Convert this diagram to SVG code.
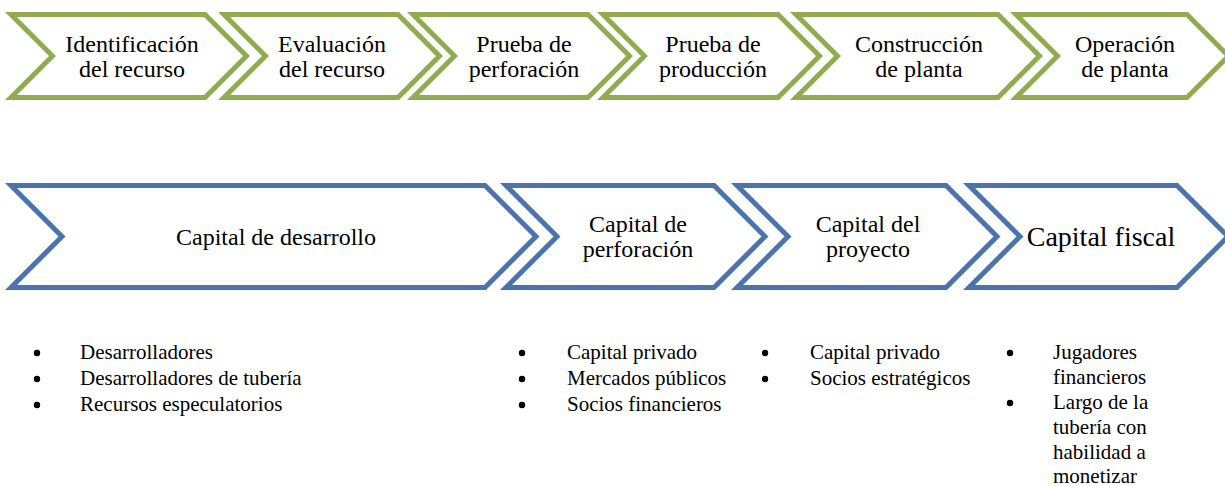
<svg xmlns="http://www.w3.org/2000/svg" width="1225" height="486" viewBox="0 0 1225 486">
<style>
.g{fill:#fff;stroke:#8fac50;stroke-width:5;stroke-linejoin:miter}
.b{fill:#fff;stroke:#4a74ab;stroke-width:5;stroke-linejoin:miter}
text{font-family:"Liberation Serif","Times New Roman",serif;fill:#000}
.t{font-size:24px;text-anchor:middle}
.f{font-size:28px;text-anchor:middle}
.l{font-size:21px}
.d{fill:#000}
</style>
<g id="stages">
<g id="s1"><polygon class="g" points="11,14.5 205,14.5 246.5,56 205,97.5 11,97.5 52.5,56"/><text class="t" x="132" y="52">Identificación</text><text class="t" x="132" y="77">del recurso</text></g>
<g id="s2"><polygon class="g" points="224,14.5 398,14.5 439.5,56 398,97.5 224,97.5 265.5,56"/><text class="t" x="332" y="52">Evaluación</text><text class="t" x="332" y="77">del recurso</text></g>
<g id="s3"><polygon class="g" points="413,14.5 588,14.5 629.5,56 588,97.5 413,97.5 454.5,56"/><text class="t" x="524" y="52">Prueba de</text><text class="t" x="524" y="77">perforación</text></g>
<g id="s4"><polygon class="g" points="603,14.5 778,14.5 819.5,56 778,97.5 603,97.5 644.5,56"/><text class="t" x="713" y="52">Prueba de</text><text class="t" x="713" y="77">producción</text></g>
<g id="s5"><polygon class="g" points="796,14.5 998,14.5 1039.5,56 998,97.5 796,97.5 837.5,56"/><text class="t" x="919" y="52">Construcción</text><text class="t" x="919" y="77">de planta</text></g>
<g id="s6"><polygon class="g" points="1016,14.5 1187,14.5 1228.5,56 1187,97.5 1016,97.5 1057.5,56"/><text class="t" x="1125" y="52">Operación</text><text class="t" x="1125" y="77">de planta</text></g>
</g>
<g id="capital">
<g id="c1"><polygon class="b" points="11,185.5 485,185.5 536,236.5 485,287.5 11,287.5 62,236.5"/><text class="t" x="276" y="245">Capital de desarrollo</text></g>
<g id="c2"><polygon class="b" points="506,185.5 714,185.5 765,236.5 714,287.5 506,287.5 557,236.5"/><text class="t" x="638" y="232">Capital de</text><text class="t" x="638" y="257">perforación</text></g>
<g id="c3"><polygon class="b" points="737,185.5 946,185.5 997,236.5 946,287.5 737,287.5 788,236.5"/><text class="t" x="868" y="232">Capital del</text><text class="t" x="868" y="257">proyecto</text></g>
<g id="c4"><polygon class="b" points="969,185.5 1177,185.5 1228,236.5 1177,287.5 969,287.5 1020,236.5"/><text class="f" x="1101" y="246">Capital fiscal</text></g>
</g>
<g id="lists">
<g id="l1">
<circle class="d" cx="37" cy="353" r="3.2"/><circle class="d" cx="37" cy="379" r="3.2"/><circle class="d" cx="37" cy="405" r="3.2"/>
<text class="l" x="80" y="359">Desarrolladores</text><text class="l" x="80" y="385">Desarrolladores de tubería</text><text class="l" x="80" y="411">Recursos especulatorios</text>
</g>
<g id="l2">
<circle class="d" cx="522" cy="353" r="3.2"/><circle class="d" cx="522" cy="379" r="3.2"/><circle class="d" cx="522" cy="405" r="3.2"/>
<text class="l" x="567" y="359">Capital privado</text><text class="l" x="567" y="385">Mercados públicos</text><text class="l" x="567" y="411">Socios financieros</text>
</g>
<g id="l3">
<circle class="d" cx="765" cy="353" r="3.2"/><circle class="d" cx="765" cy="379" r="3.2"/>
<text class="l" x="810" y="359">Capital privado</text><text class="l" x="810" y="385">Socios estratégicos</text>
</g>
<g id="l4">
<circle class="d" cx="1010" cy="353" r="3.2"/><circle class="d" cx="1010" cy="403" r="3.2"/>
<text class="l" x="1053" y="359">Jugadores</text><text class="l" x="1053" y="384">financieros</text><text class="l" x="1053" y="409">Largo de la</text><text class="l" x="1053" y="434">tubería con</text><text class="l" x="1053" y="459">habilidad a</text><text class="l" x="1053" y="483">monetizar</text>
</g>
</g>
</svg>
